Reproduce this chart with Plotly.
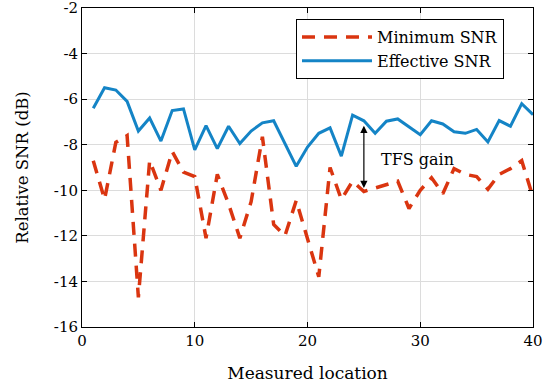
import plotly.graph_objects as go

# Measurement locations and SNR values (dB, relative)
locations = list(range(1, 41))
min_snr = [-8.7, -10.4, -7.9, -7.6, -14.7, -8.7, -10.0, -8.3, -9.2, -9.4,
           -12.1, -9.3, -10.6, -12.1, -10.5, -7.65, -11.5, -12.0, -10.45, -12.1,
           -13.8, -9.0, -10.4, -9.6, -10.05, -9.9, -9.75, -9.6, -10.8, -10.0,
           -9.45, -10.15, -9.05, -9.3, -9.4, -9.95, -9.3, -9.05, -8.7, -10.3]
eff_snr = [-6.4, -5.5, -5.6, -6.1, -7.4, -6.83, -7.84, -6.5, -6.43, -8.23,
           -7.16, -8.17, -7.19, -7.95, -7.4, -7.04, -6.95, -7.95, -8.95, -8.1,
           -7.5, -7.26, -8.5, -6.7, -6.95, -7.5, -6.97, -6.87, -7.2, -7.56,
           -6.95, -7.09, -7.43, -7.5, -7.33, -7.88, -6.94, -7.19, -6.2, -6.68]

x_ticks = [0, 10, 20, 30, 40]
y_ticks = [-16, -14, -12, -10, -8, -6, -4, -2]
y_tick_text = ["-16", "-14", "-12", "-10", "-8", "-6", "-4", "-2"]

# TFS gain marker: location and the two SNR levels it spans
gain_x = 25
gain_top = -7.1
gain_bottom = -9.9

FONT = "'DejaVu Serif', serif"
RED = "#DA3510"
BLUE = "#1484C6"

fig = go.Figure()
fig.add_trace(go.Scatter(
    x=locations, y=min_snr, mode="lines", name="Minimum SNR",
    line=dict(color=RED, width=3.5, dash="13px,9px"),
))
fig.add_trace(go.Scatter(
    x=locations, y=eff_snr, mode="lines", name="Effective SNR",
    line=dict(color=BLUE, width=3),
))

fig.add_annotation(
    x=gain_x, y=gain_bottom, ax=gain_x, ay=gain_top,
    xref="x", yref="y", axref="x", ayref="y",
    text="", showarrow=True, arrowhead=2, arrowside="end+start",
    arrowsize=1.2, arrowwidth=1.2, arrowcolor="black",
)
fig.add_annotation(
    x=gain_x + 1.3, y=(gain_top + gain_bottom) / 2 - 0.15,
    xref="x", yref="y", text="TFS gain", showarrow=False,
    xanchor="left", yanchor="middle",
    font=dict(family=FONT, size=16, color="black"),
)

axis_common = dict(
    showline=True, linecolor="black", linewidth=1, mirror="ticks",
    ticks="inside", ticklen=5, tickcolor="black", tickwidth=1,
    showgrid=True, gridcolor="#DCDCDC", gridwidth=1, zeroline=False,
    tickfont=dict(family=FONT, size=15, color="black"),
    ticklabeloverflow="allow", automargin=False,
)

fig.update_xaxes(
    range=[0, 40], tickvals=x_ticks,
    title=dict(text="Measured location", font=dict(family=FONT, size=17, color="black"), standoff=18),
    **axis_common,
)
fig.update_yaxes(
    range=[-16, -2], tickvals=y_ticks, ticktext=y_tick_text,
    title=dict(text="Relative SNR (dB)", font=dict(family=FONT, size=16.5, color="black"), standoff=21),
    **axis_common,
)

fig.update_layout(
    width=551, height=385,
    margin=dict(l=82, r=18, t=8, b=58),
    paper_bgcolor="white", plot_bgcolor="white",
    showlegend=True,
    legend=dict(
        x=0.4745, y=0.965, xanchor="left", yanchor="top",
        bgcolor="white", bordercolor="black", borderwidth=1,
        font=dict(family=FONT, size=16, color="black"),
        itemwidth=70, tracegroupgap=0,
    ),
)

fig.write_html("out.html")
